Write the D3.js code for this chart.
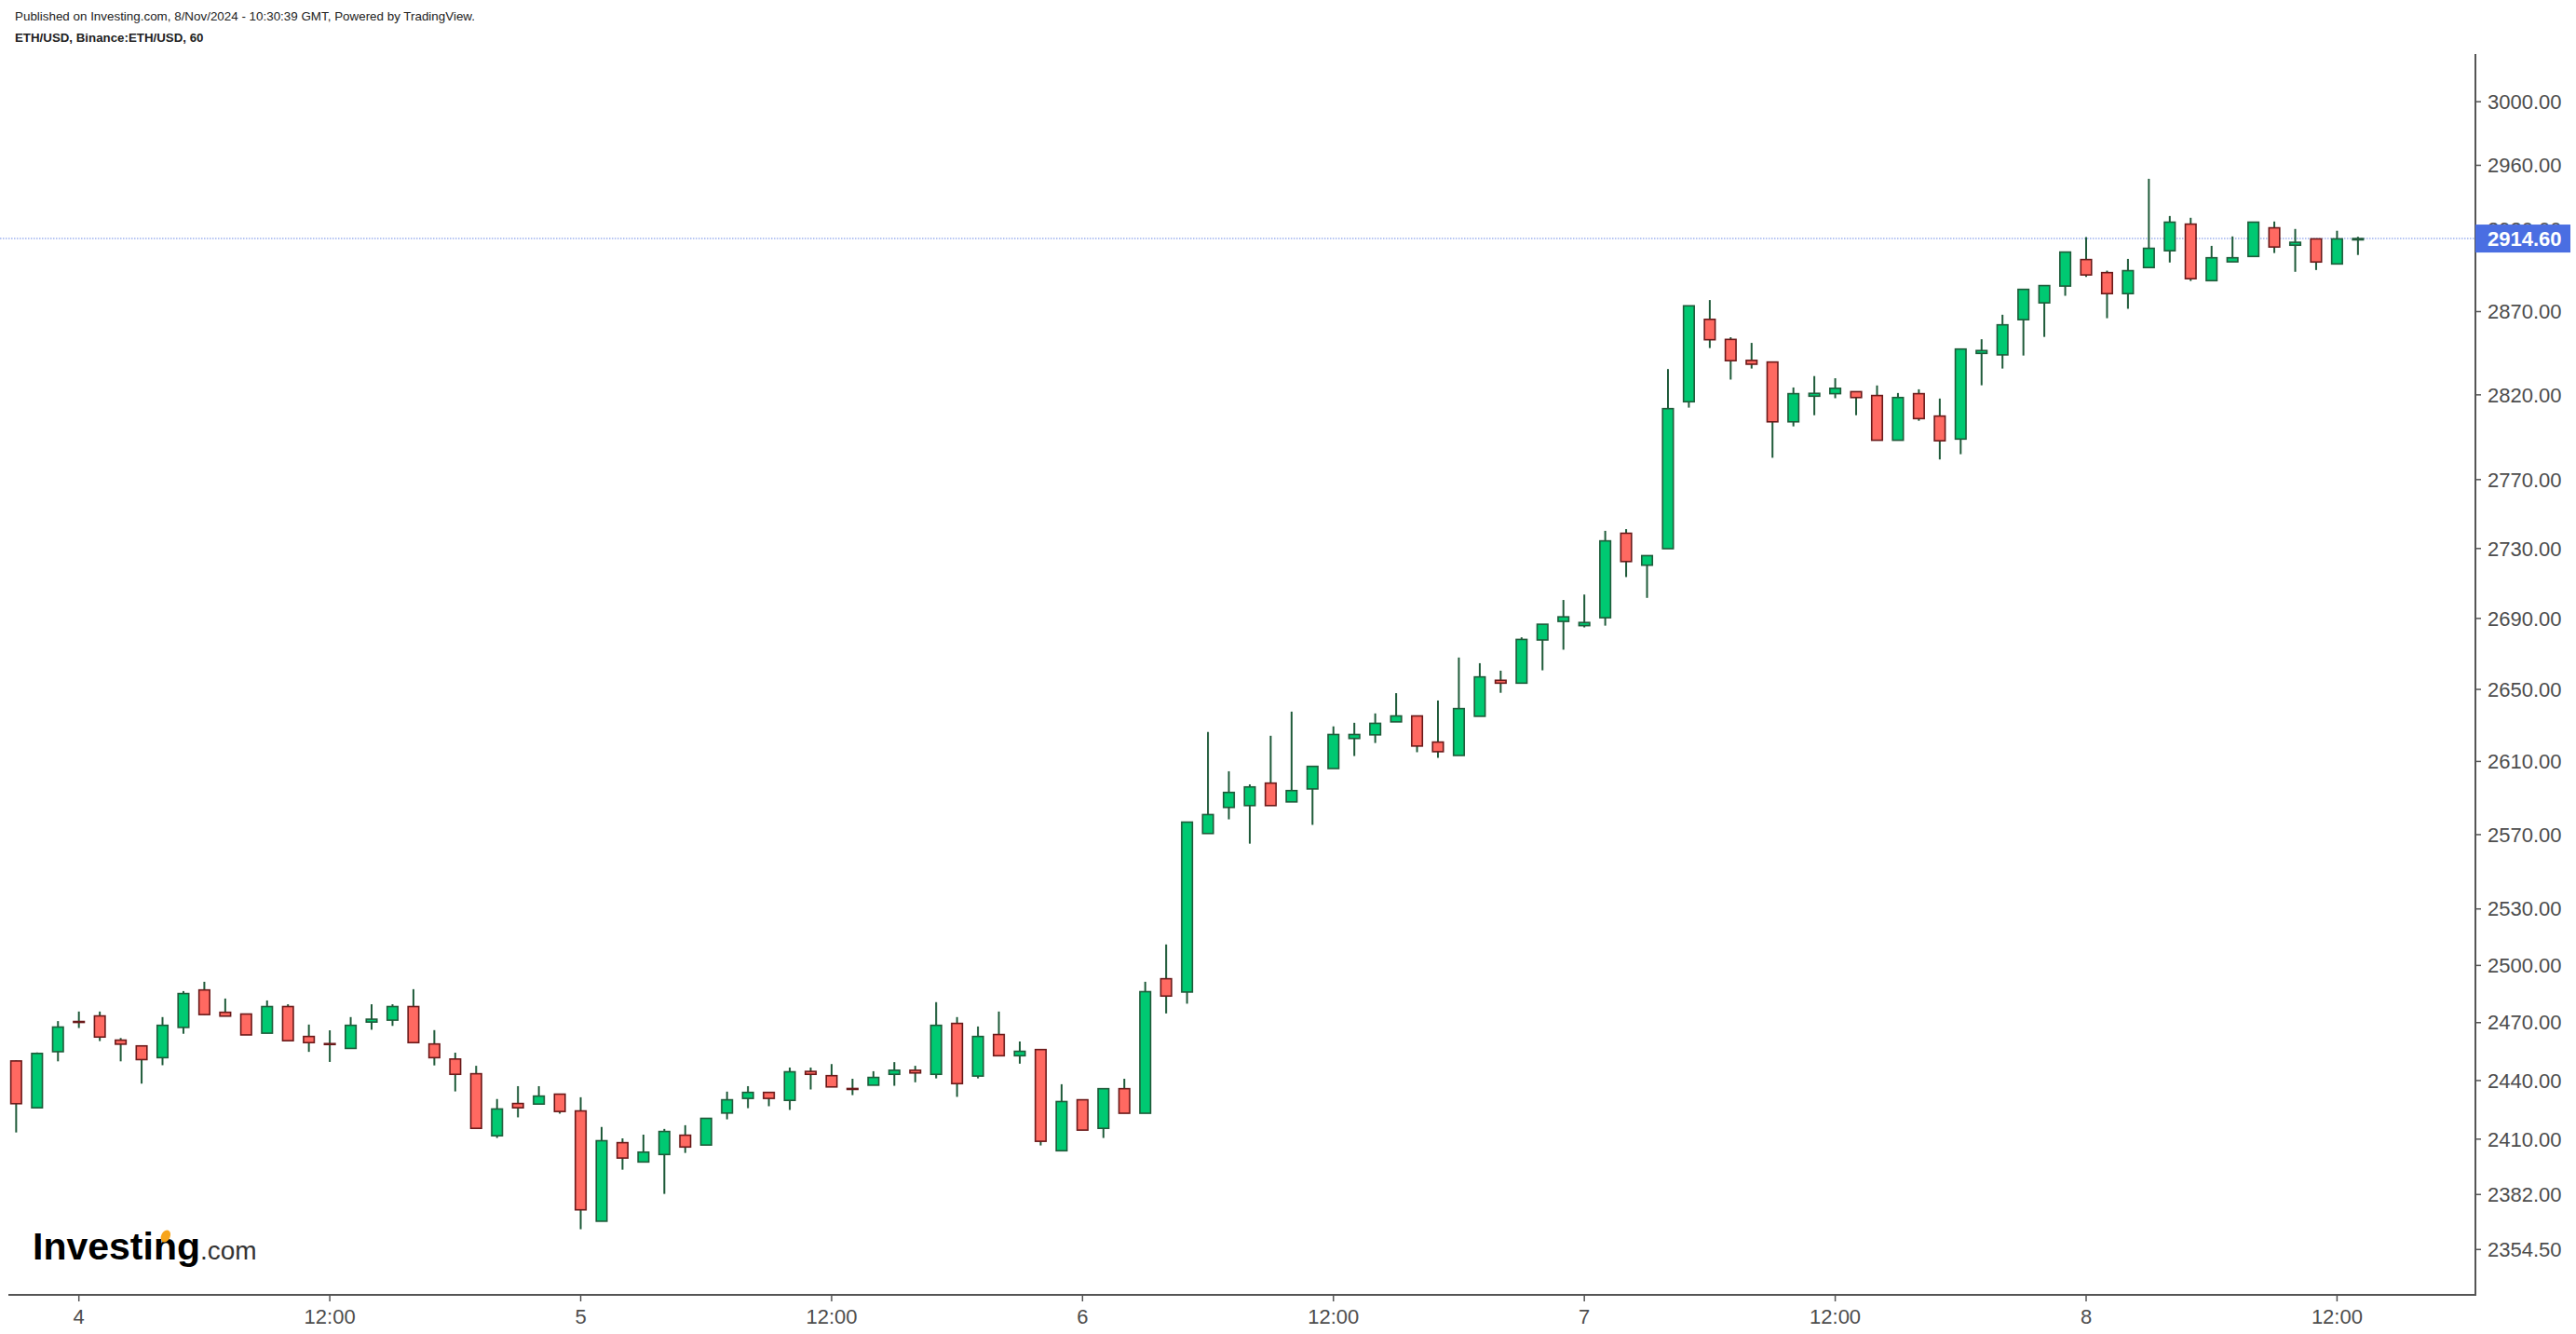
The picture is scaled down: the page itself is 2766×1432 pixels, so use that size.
<!DOCTYPE html>
<html>
<head>
<meta charset="utf-8">
<script src="https://cdn.jsdelivr.net/npm/d3@7"></script>
<style>
  html, body { margin: 0; padding: 0; background: #fff; }
  svg { display: block; }
  text { font-family: "Liberation Sans", Arial, sans-serif; }
</style>
</head>
<body>
<svg id="chart" width="2766" height="1432"></svg>
<script>
// ---- DATA (ETH/USD hourly, Binance) ----
const firstCandle = Date.UTC(2024, 10, 3, 21); // 3 Nov 21:00
const opens = [2450.1,2426.0,2454.9,2470.6,2473.5,2460.9,2457.9,2451.8,2467.5,2487.1,
  2475.4,2474.5,2464.5,2478.4,2462.8,2459.1,2456.6,2470.3,2471.3,2478.4,
  2458.9,2451.1,2443.5,2411.7,2428.2,2427.9,2433.0,2424.4,2368.6,2408.2,
  2398.4,2402.2,2412.0,2407.0,2423.3,2430.8,2433.9,2429.8,2444.7,2442.5,
  2435.9,2437.6,2443.2,2445.3,2443.2,2469.6,2442.3,2463.8,2452.8,2456.0,
  2404.1,2430.1,2415.5,2435.8,2423.2,2493.0,2486.0,2570.6,2584.8,2585.8,
  2598.1,2587.8,2594.9,2606.1,2622.7,2624.7,2631.9,2635.2,2620.7,2613.3,
  2635.0,2655.1,2653.5,2677.8,2688.3,2685.9,2690.4,2738.8,2720.4,2729.9,
  2815.9,2865.3,2853.2,2840.6,2839.6,2804.0,2819.2,2820.7,2821.9,2819.6,
  2793.1,2820.7,2807.4,2793.8,2844.8,2843.9,2865.1,2875.3,2885.5,2901.7,
  2893.7,2880.9,2896.8,2907.1,2923.5,2888.8,2900.3,2903.6,2921.2,2910.5,
  2914.4,2899.0,2913.8];
const highs = [2450.5,2454.5,2470.8,2475.8,2475.8,2462.0,2458.2,2472.9,2486.5,2491.4,
  2482.6,2474.5,2481.6,2479.6,2469.0,2466.0,2472.9,2479.6,2479.6,2487.5,
  2466.1,2454.4,2447.6,2430.5,2437.1,2437.1,2433.0,2431.4,2416.2,2410.4,
  2412.3,2415.2,2417.1,2420.6,2434.3,2437.1,2433.9,2446.7,2446.7,2448.5,
  2440.9,2444.8,2449.5,2447.6,2480.7,2472.9,2468.0,2475.8,2460.2,2456.0,
  2438.1,2430.1,2435.8,2440.9,2491.4,2511.1,2576.8,2626.3,2604.6,2597.4,
  2624.2,2637.6,2607.3,2629.4,2631.4,2636.6,2647.9,2635.2,2643.8,2667.9,
  2664.7,2660.5,2679.3,2686.7,2700.5,2703.6,2740.2,2741.2,2725.9,2835.4,
  2873.5,2877.0,2854.5,2851.1,2839.6,2824.4,2831.2,2829.9,2821.9,2825.6,
  2821.1,2823.3,2817.8,2847.4,2853.3,2868.1,2883.5,2885.8,2906.3,2915.5,
  2894.9,2902.1,2951.6,2928.5,2927.4,2910.1,2915.9,2924.7,2925.1,2920.5,
  2914.4,2919.4,2915.7];
const lows = [2413.4,2425.6,2449.9,2467.2,2460.4,2449.9,2438.4,2447.9,2464.2,2474.0,
  2473.4,2463.6,2464.5,2460.6,2454.8,2449.6,2456.6,2466.3,2468.3,2459.6,
  2447.8,2434.4,2415.5,2410.6,2421.1,2427.9,2423.0,2364.6,2368.6,2394.5,
  2398.4,2382.3,2403.0,2407.0,2420.1,2425.8,2426.8,2424.9,2435.4,2436.7,
  2432.5,2437.6,2437.3,2439.1,2441.1,2431.6,2441.1,2452.8,2448.7,2406.8,
  2404.1,2414.6,2410.6,2423.2,2423.2,2474.8,2479.9,2570.6,2578.3,2565.1,
  2585.8,2587.8,2575.3,2606.1,2613.0,2620.2,2631.9,2615.1,2612.0,2613.3,
  2635.0,2648.1,2653.5,2660.7,2672.3,2684.9,2685.9,2713.6,2701.7,2729.9,
  2812.4,2848.0,2829.1,2835.7,2782.8,2801.3,2807.9,2818.0,2807.9,2793.1,
  2793.1,2804.6,2781.8,2784.9,2825.7,2835.7,2843.5,2854.7,2879.6,2891.1,
  2866.0,2871.7,2896.8,2899.9,2888.6,2888.8,2900.3,2903.6,2905.7,2894.2,
  2895.3,2899.0,2904.5];
const closes = [2428.1,2454.0,2467.7,2470.2,2462.5,2458.8,2450.8,2468.6,2485.2,2474.2,
  2473.4,2463.6,2478.4,2460.6,2459.6,2458.8,2468.6,2471.8,2478.4,2459.6,
  2451.8,2443.2,2415.5,2425.4,2426.0,2432.0,2424.1,2374.3,2409.2,2400.4,
  2403.4,2413.9,2406.0,2420.6,2430.1,2433.9,2430.8,2444.5,2443.2,2436.7,
  2435.5,2441.6,2445.3,2443.9,2468.6,2438.4,2462.8,2452.8,2455.1,2408.9,
  2429.2,2414.6,2435.8,2423.2,2486.2,2483.9,2576.8,2580.9,2593.0,2596.0,
  2585.8,2594.0,2607.3,2624.9,2624.9,2631.1,2635.2,2618.5,2615.4,2639.3,
  2657.0,2653.5,2678.1,2686.7,2690.9,2687.7,2734.4,2722.5,2725.9,2811.8,
  2873.5,2853.0,2840.4,2838.3,2804.0,2820.7,2820.9,2823.9,2818.4,2793.1,
  2818.4,2805.9,2792.8,2847.4,2846.5,2862.0,2883.5,2885.8,2906.3,2892.3,
  2880.9,2894.9,2908.6,2924.7,2890.0,2902.8,2902.8,2924.7,2909.4,2912.3,
  2900.2,2914.4,2914.6];
const lastPrice = 2914.60;
const yTickValues = [3000, 2960, 2920, 2870, 2820, 2770, 2730, 2690, 2650, 2610,
  2570, 2530, 2500, 2470, 2440, 2410, 2382, 2354.5];
const xTickTimes = [Date.UTC(2024,10,4,0), Date.UTC(2024,10,4,12), Date.UTC(2024,10,5,0),
  Date.UTC(2024,10,5,12), Date.UTC(2024,10,6,0), Date.UTC(2024,10,6,12), Date.UTC(2024,10,7,0),
  Date.UTC(2024,10,7,12), Date.UTC(2024,10,8,0), Date.UTC(2024,10,8,12)];
const xTickLabels = ["4", "12:00", "5", "12:00", "6", "12:00", "7", "12:00", "8", "12:00"];
const headerLine1 = "Published on Investing.com, 8/Nov/2024 - 10:30:39 GMT, Powered by TradingView.";
const headerLine2 = "ETH/USD, Binance:ETH/USD, 60";

// ---- LAYOUT ----
const svg = d3.select("#chart");
const axisX = 2658, axisBottom = 1390, axisTop = 58, axisLeft = 9;
const upFill = "#00c972", downFill = "#ff6961";
const upLine = "#1f5b3a", downLine = "#6b1a1a";
const axisColor = "#555555", textColor = "#4d4d4d";

const x = d3.scaleUtc()
  .domain([new Date(Date.UTC(2024,10,4,0)), new Date(Date.UTC(2024,10,8,0))])
  .range([84.7, 2240]);
const y = d3.scaleLog().domain([2354.5, 3000]).range([1341.3, 109.2]);

const candles = opens.map((o, i) => ({
  t: new Date(firstCandle + i * 3600e3), o, h: highs[i], l: lows[i], c: closes[i]
}));

// header
svg.append("text").attr("x", 16).attr("y", 22).attr("font-size", 13.4).attr("fill", "#222")
  .text(headerLine1);
svg.append("text").attr("x", 16).attr("y", 45).attr("font-size", 13.3).attr("font-weight", "bold")
  .attr("fill", "#222").text(headerLine2);

// current price line
svg.append("line").attr("x1", 0).attr("x2", axisX).attr("y1", y(lastPrice)).attr("y2", y(lastPrice))
  .attr("stroke", "#9fb2f0").attr("stroke-width", 1.5).attr("stroke-dasharray", "1.5,1.5");

// candles
const bodyW = 11.5;
const g = svg.append("g");
const cg = g.selectAll("g.candle").data(candles).join("g").attr("class", "candle");
cg.append("line")
  .attr("x1", d => x(d.t)).attr("x2", d => x(d.t))
  .attr("y1", d => y(d.h)).attr("y2", d => y(d.l))
  .attr("stroke", upLine).attr("stroke-width", 2);
cg.append("rect")
  .attr("x", d => x(d.t) - bodyW / 2)
  .attr("width", bodyW)
  .attr("y", d => y(Math.max(d.o, d.c)))
  .attr("height", d => Math.max(1, y(Math.min(d.o, d.c)) - y(Math.max(d.o, d.c))))
  .attr("fill", d => d.c >= d.o ? upFill : downFill)
  .attr("stroke", d => d.c >= d.o ? upLine : downLine)
  .attr("stroke-width", 1.6);

// right axis
svg.append("line").attr("x1", axisX).attr("x2", axisX).attr("y1", axisTop).attr("y2", axisBottom)
  .attr("stroke", axisColor).attr("stroke-width", 2);
const yt = svg.append("g");
yTickValues.forEach(v => {
  yt.append("line").attr("x1", axisX).attr("x2", axisX + 6).attr("y1", y(v)).attr("y2", y(v))
    .attr("stroke", axisColor).attr("stroke-width", 1.5);
  yt.append("text").attr("x", 2671).attr("y", y(v)).attr("dy", "0.35em")
    .attr("font-size", 22).attr("fill", textColor).text(d3.format(".2f")(v));
});

// last price label
const ly = y(lastPrice);
svg.append("rect").attr("x", axisX).attr("y", ly - 15).attr("width", 102).attr("height", 30)
  .attr("fill", "#4a6ee2");
svg.append("text").attr("x", 2671).attr("y", ly).attr("dy", "0.35em").attr("font-size", 22)
  .attr("font-weight", "bold").attr("fill", "#ffffff").text(d3.format(".2f")(lastPrice));

// bottom axis
svg.append("line").attr("x1", axisLeft).attr("x2", axisX + 1).attr("y1", axisBottom).attr("y2", axisBottom)
  .attr("stroke", axisColor).attr("stroke-width", 2);
xTickTimes.forEach((t, i) => {
  const px = x(new Date(t));
  svg.append("line").attr("x1", px).attr("x2", px).attr("y1", axisBottom).attr("y2", axisBottom + 7)
    .attr("stroke", axisColor).attr("stroke-width", 1.5);
  svg.append("text").attr("x", px).attr("y", 1413).attr("dy", "0.35em").attr("text-anchor", "middle")
    .attr("font-size", 22).attr("fill", textColor).text(xTickLabels[i]);
});

// logo
const logo = svg.append("text").attr("x", 35).attr("y", 1352);
logo.append("tspan").attr("font-size", 41).attr("font-weight", "bold").attr("fill", "#000")
  .text("Investing");
logo.append("tspan").attr("font-size", 28).attr("fill", "#333").text(".com");
try {
  const node = logo.node();
  const ext = node.getExtentOfChar(7);
  const cx = ext.x + ext.width / 2;
  svg.append("ellipse").attr("cx", cx + 0.5).attr("cy", 1327).attr("rx", 4.8).attr("ry", 6.8)
    .attr("transform", `rotate(25,${cx + 0.5},1327)`).attr("fill", "#f7a51c");
} catch (e) {}
</script>
</body>
</html>
